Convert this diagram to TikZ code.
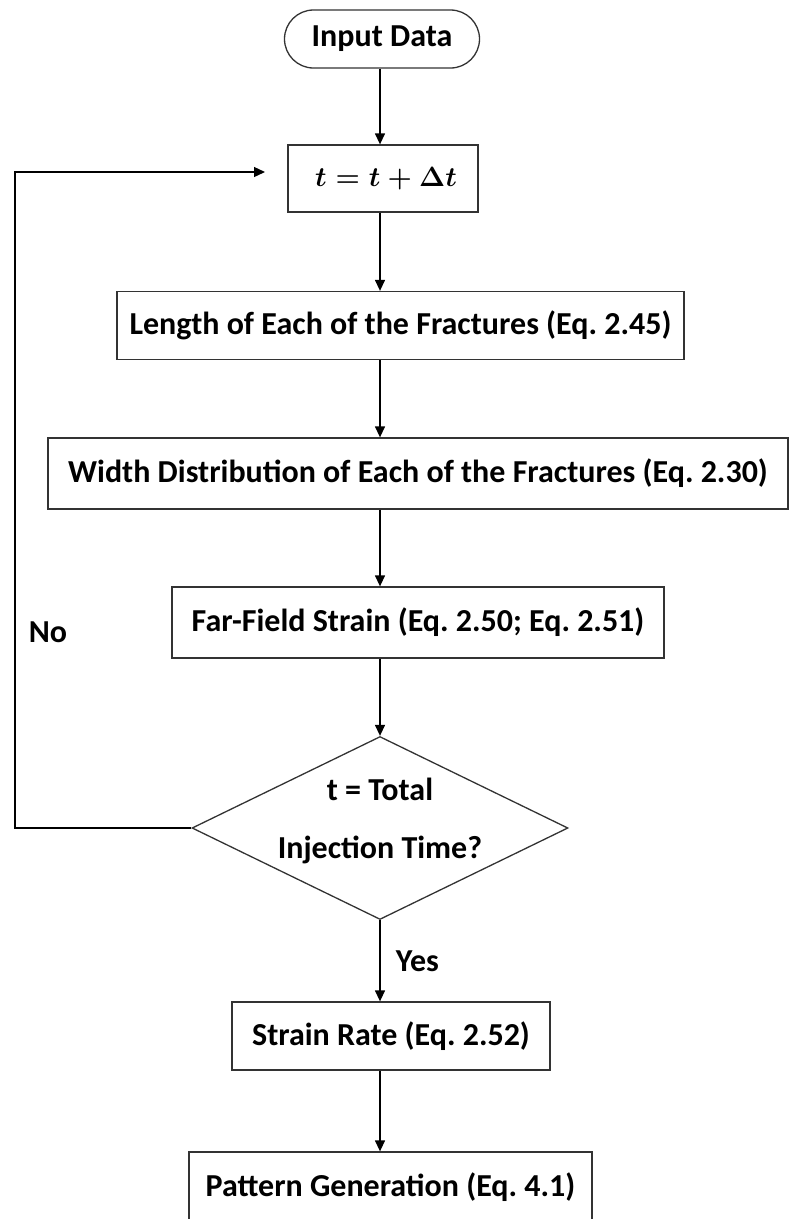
\documentclass[tikz,border=0pt]{standalone}
\usepackage{graphicx}
\usepackage{fontspec}
\setmainfont{Carlito}
\frenchspacing
\usetikzlibrary{
arrows.meta,
shapes,
positioning
}

\begin{document}
\begin{tikzpicture}[
    x=1pt, y=-1pt,
    line width=1.3pt,
    >={Triangle[width=10pt,length=11pt]},
    box/.style={draw=black!80, fill=white, font=\bfseries\fontsize{32}{36}\selectfont, inner sep=0pt, minimum height=68pt},
    terminal/.style={box, rounded corners=29pt, minimum height=58pt},
    test/.style={diamond, draw=black!80, aspect=2.05, inner sep=0pt, minimum width=376pt, minimum height=183pt},
    lbl/.style={font=\bfseries\fontsize{32}{36}\selectfont}
  ]
  \useasboundingbox (0,0) rectangle (790,1219);
  \coordinate (axis) at (380,0);

  \node[terminal, minimum width=195pt] (input) at (382,39) {Input Data};
  \node[box, minimum width=190pt, minimum height=67pt, font=\fontsize{24.88}{30}\selectfont\boldmath] (tstep) at (383,178.5) {\hspace{6pt}\scalebox{1.12}{$t = t + \Delta t$}};
  \node[box, minimum width=567pt] (length) at (400.5,325.5) {Length of Each of the Fractures (Eq. 2.45)};
  \node[box, minimum width=740pt, minimum height=71pt] (width) at (418,473.5) {Width Distribution of Each of the Fractures (Eq. 2.30)};
  \node[box, minimum width=492pt, minimum height=71pt] (farfield) at (418,622.5) {Far-Field Strain (Eq. 2.50; Eq. 2.51)};
  \node[test] (done) at (380,828) {};
  \node[lbl, align=center] (donetext) at (380,821) {t = Total\\[22pt]Injection Time?};
  \node[box, minimum width=318pt] (rate) at (391,1036) {Strain Rate (Eq. 2.52)};
  \node[box, minimum width=403pt, minimum height=70pt] (pattern) at (390.5,1187) {Pattern Generation (Eq. 4.1)};

  % main flow
  \draw[->] (input.south -| axis) -- (tstep.north -| axis);
  \draw[->] (tstep.south -| axis) -- (length.north -| axis);
  \draw[->] (length.south -| axis) -- (width.north -| axis);
  \draw[->] (width.south -| axis) -- (farfield.north -| axis);
  \draw[->] (farfield.south -| axis) -- (done.north);
  \draw[->] (done.south) -- node[lbl, right=12pt] {Yes} (rate.north -| axis);
  \draw[->] (rate.south -| axis) -- (pattern.north -| axis);

  % loop back
  \coordinate (back) at (265,172);
  \draw[->] (done.west) -- (15,828) -- (15,172) -- (back);
  \node[lbl] (no) at (48,632) {No};
\end{tikzpicture}
\end{document}
